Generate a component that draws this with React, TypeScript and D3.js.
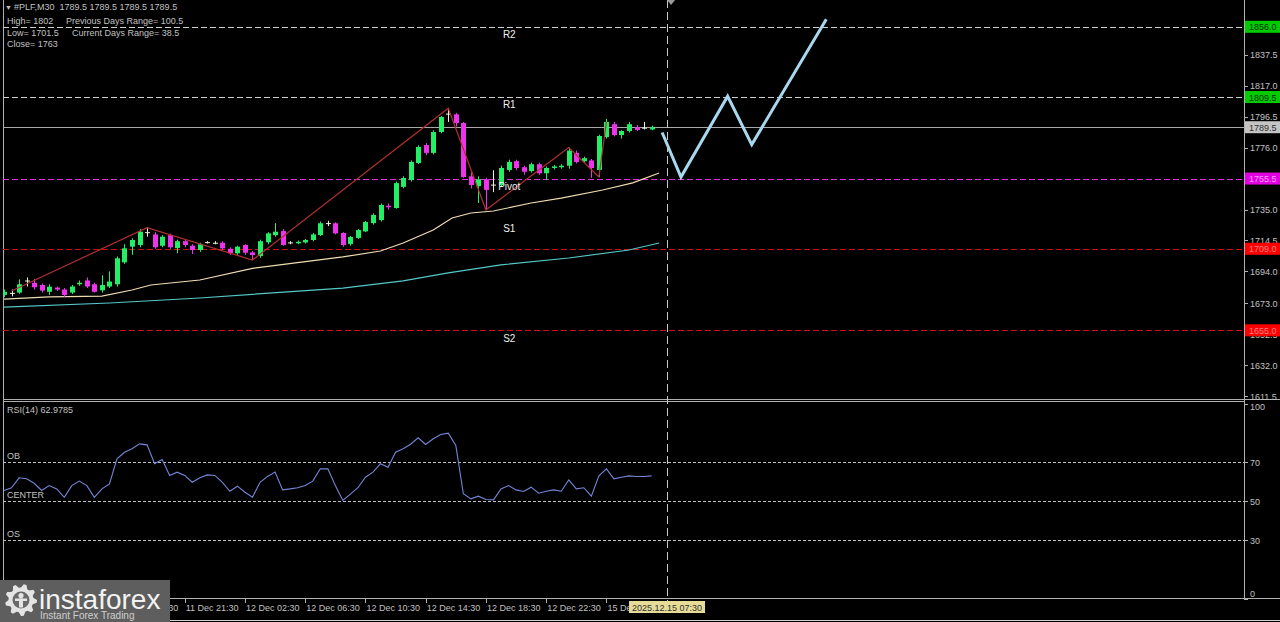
import React from 'react';
import * as d3 from 'd3';

// ---------- DATA ----------
const opens = [1678.5,1679.5,1680,1687.5,1686.5,1685,1680.5,1683.3,1682,1680,1685.5,1688,1685.5,1681.5,1684,1685.5,1700,1710.4,1711.5,1720,1718.5,1711,1718,1709.5,1714,1711,1708.2,1713.2,1713,1713,1709,1706,1711.5,1706.6,1704.2,1713.3,1718,1720.7,1713,1712.6,1713.2,1714.8,1718.1,1726,1725.9,1719.5,1712.2,1716.2,1720.5,1726,1728,1737.5,1736,1750,1754.5,1765.8,1777.7,1772.5,1786.3,1798.5,1798,1792.3,1757,1750.5,1755,1751.2,1751.2,1761.2,1767,1763,1760.5,1765,1759,1762.5,1763,1764,1772.5,1767,1767.5,1761.2,1783,1791.5,1784.3,1787,1789.5,1789,1788];
const highs = [1682,1682,1688.8,1690,1689,1686,1685.5,1684,1683,1685,1688,1690,1686.5,1691.5,1694,1704,1712,1716,1722,1723,1720,1718,1719,1715,1715,1712,1713,1714,1714,1714,1710,1711,1712,1707.5,1715,1720,1726,1722,1714,1714.5,1715.5,1719.5,1727,1727.5,1726.5,1720,1717.5,1722,1727.5,1732.5,1739,1739,1753.5,1757,1767.5,1777.5,1779,1787.5,1797,1802,1799,1793,1760,1757,1756,1761,1764,1768,1768,1764,1766,1766,1763.5,1764.5,1765,1776,1774,1770,1768.5,1784.5,1795,1793,1787.5,1793,1791,1793,1790.5];
const lows = [1677,1677.5,1679,1684,1682,1680,1678.5,1681,1677,1679,1684.5,1683,1680,1680,1683,1684,1699,1705,1710,1717,1709,1710,1709,1706,1710,1705.5,1707,1712.5,1712,1708,1705,1705,1705,1701.5,1703,1712,1717,1711,1712,1712,1712.5,1714,1717.5,1724,1718.5,1710.4,1711,1715.5,1720,1725,1727,1735,1735.5,1749,1753.5,1765,1771,1771.5,1785.5,1793,1790,1756,1749,1739.3,1734.7,1746.5,1750,1760,1761,1758,1759.5,1758,1754.5,1761.5,1762,1762,1765.5,1766,1756,1756.5,1782,1783.5,1782,1786,1787,1788,1787.5];
const closes = [1680.5,1679.8,1685.5,1688,1683.5,1681.3,1683.9,1682,1678.4,1684,1686.5,1684,1680.5,1685,1687.3,1702.7,1709.3,1714.8,1720.3,1719.6,1710,1717,1710,1714,1711.5,1708.2,1712,1713.4,1712.8,1709.3,1706,1710.4,1706.4,1704.9,1714,1719.2,1720.3,1711.5,1713.2,1713.6,1714.8,1718.5,1725.9,1725.8,1719.2,1711.5,1716.8,1721.4,1726.7,1731.4,1738,1736.5,1752.5,1755.9,1766.5,1776.4,1772.5,1786.3,1796.3,1798.1,1792.3,1756.5,1751.2,1755,1748,1751.5,1762.5,1766.5,1762.5,1760,1765,1759,1762.5,1763.5,1764,1774,1766.5,1769,1762.5,1783.7,1793,1784.3,1787,1791.5,1787.7,1789.2,1789.5];

const rsiValues = [55.4,56.8,61.9,61.4,59.1,55.4,57.9,56.2,51.9,57.9,60.2,57.9,51.9,56.2,58.8,71.6,75.0,76.8,79.3,78.8,69.1,71.3,63.1,64.8,63.1,59.6,61.9,63.4,63.1,59.6,55.0,57.6,54.5,51.9,59.6,62.6,64.8,55.7,56.2,56.8,57.9,60.2,66.5,66.5,58.0,50.3,53.5,56.8,62.2,64.8,69.1,67.3,75.0,76.8,79.1,82.4,79.0,81.9,84.1,84.8,78.5,53.7,51.1,52.5,50.8,50.6,56.2,57.9,55.7,54.9,57.1,54.0,55.0,55.7,55.0,60.8,56.2,56.8,52.5,62.9,66.5,61.4,62.2,62.9,62.6,62.6,62.9];

const ma1Idx = [0,6,13,17,19.5,26,33,39.5,45,50,53,57,59.5,62,65,70,74,79.5,83.5,87];
const ma1Vals = [1675.7,1677.1,1677.7,1681.7,1685,1688.3,1696,1700.2,1703.6,1707.5,1712.8,1721.4,1729.4,1732.7,1734,1739.3,1742.6,1747.9,1752.6,1759.2];
const ma2Idx = [0,14,26,45,53,59,66,75,83,87];
const ma2Vals = [1670.4,1673.1,1676.4,1683,1687.7,1693,1698.3,1702.9,1708.2,1712.8];

const zigIdx = [1,19,33,59,64,75,79,80];
const zigVals = [1681,1723,1701.5,1802,1734.7,1776,1756.5,1793];

const forecastIdx = [87.4,89.9,96.1,99.3,109.2];
const forecastVals = [1786,1756.5,1810,1778,1861];

const priceTicks = [1837.5,1817.0,1796.5,1776.0,1735.0,1714.5,1694.0,1673.0,1652.5,1632.0,1611.5];
const pivotNames = ['R2','R1','Pivot','S1','S2'];
const pivotValues = [1856.0,1809.5,1755.5,1709.0,1655.0];
const currentPrice = 1789.5;

const rsiLevels = [70,50,30];
const rsiLevelNames = ['OB','CENTER','OS'];
const rsiTicks = [100,70,50,30,0];
const rsiTitle = 'RSI(14) 62.9785';

const timeTickIdx = [16,24,32,40,48,56,64,72,80];
const timeLabels = ['11 Dec 17:30','11 Dec 21:30','12 Dec 02:30','12 Dec 06:30','12 Dec 10:30','12 Dec 14:30','12 Dec 18:30','12 Dec 22:30','15 Dec 03:30'];
const markerIdx = 88.05;
const markerLabel = '2025.12.15 07:30';

const headerTitle = '#PLF,M30  1789.5 1789.5 1789.5 1789.5';
const headerLeft = ['High= 1802', 'Low= 1701.5', 'Close= 1763'];
const headerRight = ['Previous Days Range= 100.5', 'Current Days Range= 38.5'];

// ---------- LAYOUT ----------
const W = 1280, H = 622;
const L = 3, R = 1244;
const MAIN_BOTTOM = 399, RSI_TOP = 401, RSI_BOTTOM = 598;
const FONT = '"Liberation Sans", Arial, sans-serif';
const AXIS_TXT = '#c0c0c0';
const BULL = '#22ee66', BEAR = '#ee33ee', DOJI = '#f0f0d8';

function pivotStyle(name: string) {
  if (name.startsWith('R')) return { line: '#d0d0d0', bg: '#00cc00', txt: '#0f2f0f' };
  if (name === 'Pivot') return { line: '#e030e0', bg: '#e000e0', txt: '#ff9cff' };
  return { line: '#d01010', bg: '#ff0000', txt: '#ff8080' };
}

function gearPath(cx: number, cy: number, rOut: number, rIn: number, teeth: number) {
  const pts: [number, number][] = [];
  const n = teeth * 4;
  for (let k = 0; k < n; k++) {
    const a = (k / n) * Math.PI * 2;
    const r = (k % 4 === 0 || k % 4 === 1) ? rOut : rIn;
    pts.push([cx + r * Math.cos(a), cy + r * Math.sin(a)]);
  }
  return d3.line()(pts.concat([pts[0]])) as string;
}

export default function App() {
  const x = d3.scaleLinear().domain([0, 86]).range([4, 651.6]);
  const y = d3.scaleLinear().domain([1611.5, 1856]).range([396, 26.8]);
  const yr = d3.scaleLinear().domain([0, 100]).range([598.5, 403.5]);

  const lineXY = d3.line<[number, number]>().x(d => x(d[0])).y(d => y(d[1]));
  const ma1 = lineXY(ma1Idx.map((v, i) => [v, ma1Vals[i]]));
  const ma2 = lineXY(ma2Idx.map((v, i) => [v, ma2Vals[i]]));
  const zig = lineXY(zigIdx.map((v, i) => [v, zigVals[i]]));
  const fc = lineXY(forecastIdx.map((v, i) => [v, forecastVals[i]]));
  const rsiPath = d3.line<number>().x((_, i) => x(i)).y(d => yr(d))(rsiValues);

  const mX = x(markerIdx);
  const labelX = x(67.1);
  const pivotLabelDy: Record<string, number> = { R2: 11, R1: 11, Pivot: 11, S1: -17, S2: 12 };
  const py = (v: number) => Math.round(y(v)) + 0.5;

  return (
    <svg width={W} height={H} style={{ position: 'fixed', left: 0, top: 0, background: '#000' }} fontFamily={FONT}>
      <defs>
        <clipPath id="mainClip"><rect x={L} y={0} width={R - L} height={MAIN_BOTTOM} /></clipPath>
        <clipPath id="rsiClip"><rect x={L} y={RSI_TOP} width={R - L} height={RSI_BOTTOM - RSI_TOP} /></clipPath>
      </defs>
      <rect x={0} y={0} width={W} height={H} fill="#000" />

      {/* frames */}
      <line x1={L + 0.5} x2={L + 0.5} y1={0} y2={RSI_BOTTOM} stroke="#b0b0b0" />
      <line x1={R + 0.5} x2={R + 0.5} y1={0} y2={RSI_BOTTOM} stroke="#b0b0b0" />
      <line x1={L} x2={W} y1={MAIN_BOTTOM + 0.5} y2={MAIN_BOTTOM + 0.5} stroke="#b0b0b0" />
      <line x1={L} x2={R} y1={RSI_TOP + 0.5} y2={RSI_TOP + 0.5} stroke="#b0b0b0" />
      <line x1={L} x2={W} y1={RSI_BOTTOM + 0.5} y2={RSI_BOTTOM + 0.5} stroke="#b0b0b0" />
      <line x1={0} x2={W} y1={620.5} y2={620.5} stroke="#d0d0d0" />

      <g clipPath="url(#mainClip)">
        {pivotValues.map((v, i) => (
          <line key={'pl' + i} x1={L} x2={R} y1={py(v)} y2={py(v)}
            stroke={pivotStyle(pivotNames[i]).line} strokeDasharray="6,3" strokeWidth={1} />
        ))}
        <line x1={L} x2={R} y1={py(currentPrice)} y2={py(currentPrice)} stroke="#a8a8a8" />

        <path d={ma2 || ''} fill="none" stroke="#55c8c8" strokeWidth={1.2} />
        <path d={ma1 || ''} fill="none" stroke="#f0dcb0" strokeWidth={1.2} />

        {opens.map((o, i) => {
          const c = closes[i];
          const col = c - o > 0.6 ? BULL : o - c > 0.6 ? BEAR : DOJI;
          const cx = Math.round(x(i)) + 0.5;
          const top = y(Math.max(o, c));
          const bot = y(Math.min(o, c));
          return (
            <g key={'c' + i}>
              <line x1={cx} x2={cx} y1={y(highs[i])} y2={y(lows[i])} stroke={col} strokeWidth={1} />
              <rect x={cx - 2.5} y={top} width={5} height={Math.max(1, bot - top)} fill={col} />
            </g>
          );
        })}

        <path d={zig || ''} fill="none" stroke="#b03030" strokeWidth={1.2} />

        {pivotValues.map((v, i) => (
          <text key={'pt' + i} x={labelX} y={y(v) + pivotLabelDy[pivotNames[i]]} fill="#f0f0f0" fontSize={10} textAnchor="middle">{pivotNames[i]}</text>
        ))}

        <path d={fc || ''} fill="none" stroke="#a8d8f0" strokeWidth={3} strokeLinejoin="miter" />
      </g>

      {/* header */}
      <text x={5} y={10} fill={AXIS_TXT} fontSize={7}>▼</text>
      <text x={14} y={10} fill={AXIS_TXT} fontSize={9} style={{ whiteSpace: 'pre' }}>{headerTitle}</text>
      {headerLeft.map((t, i) => (
        <text key={'hl' + i} x={7} y={24 + i * 11.5} fill={AXIS_TXT} fontSize={9}>{t}</text>
      ))}
      {headerRight.map((t, i) => (
        <text key={'hr' + i} x={i === 0 ? 66 : 72} y={24 + i * 11.5} fill={AXIS_TXT} fontSize={9}>{t}</text>
      ))}

      {/* price axis */}
      {priceTicks.map((v, i) => (
        <g key={'pa' + i}>
          <line x1={R} x2={R + 4} y1={py(v)} y2={py(v)} stroke="#b0b0b0" />
          <text x={1250} y={y(v) + 3.5} fill={AXIS_TXT} fontSize={9}>{v.toFixed(1)}</text>
        </g>
      ))}
      {pivotValues.map((v, i) => {
        const s = pivotStyle(pivotNames[i]);
        return (
          <g key={'pb' + i}>
            <rect x={R + 1} y={y(v) - 6} width={W - R - 1} height={12} fill={s.bg} />
            <text x={1249} y={y(v) + 3.5} fill={s.txt} fontSize={9}>{v.toFixed(1)}</text>
          </g>
        );
      })}
      <rect x={R + 1} y={y(currentPrice) - 6} width={W - R - 1} height={12} fill="#c4c4c4" />
      <text x={1249} y={y(currentPrice) + 3.5} fill="#303030" fontSize={9}>{currentPrice.toFixed(1)}</text>

      {/* RSI pane */}
      <g clipPath="url(#rsiClip)">
        {rsiLevels.map((v, i) => (
          <line key={'rl' + i} x1={L} x2={R} y1={Math.round(yr(v)) + 0.5} y2={Math.round(yr(v)) + 0.5} stroke="#c0c0c0" strokeDasharray="3,2" />
        ))}
        <path d={rsiPath || ''} fill="none" stroke="#7486d8" strokeWidth={1.1} />
      </g>
      <text x={7} y={413} fill={AXIS_TXT} fontSize={9}>{rsiTitle}</text>
      {rsiLevels.map((v, i) => (
        <text key={'rn' + i} x={7} y={yr(v) - 3} fill={AXIS_TXT} fontSize={9}>{rsiLevelNames[i]}</text>
      ))}
      {rsiTicks.map((v, i) => {
        const yy = Math.min(593, Math.max(406, yr(v)));
        return (
          <g key={'rt' + i}>
            <line x1={R} x2={R + 4} y1={Math.round(yr(v)) + 0.5} y2={Math.round(yr(v)) + 0.5} stroke="#b0b0b0" />
            <text x={1250} y={yy + 3.5} fill={AXIS_TXT} fontSize={9}>{v}</text>
          </g>
        );
      })}

      {/* time axis */}
      {timeTickIdx.map((v, i) => (
        <g key={'ta' + i}>
          <line x1={Math.round(x(v)) + 0.5} x2={Math.round(x(v)) + 0.5} y1={RSI_BOTTOM} y2={RSI_BOTTOM + 5} stroke="#b0b0b0" />
          <text x={x(v) + 1} y={611} fill={AXIS_TXT} fontSize={9}>{timeLabels[i]}</text>
        </g>
      ))}

      {/* current time marker */}
      <line x1={Math.round(mX) + 0.5} x2={Math.round(mX) + 0.5} y1={0} y2={606} stroke="#c8c8c8" strokeDasharray="8,4" />
      <polygon points={`${mX},0 ${mX + 8},0 ${mX + 4},5`} fill="#9a9a9a" />
      <rect x={mX - 38} y={601} width={76} height={12} fill="#e6dc98" />
      <text x={mX} y={610.5} fill="#303030" fontSize={9} textAnchor="middle">{markerLabel}</text>

      {/* logo */}
      <g>
        <rect x={0} y={580} width={170} height={42} fill="#5e5e5e" />
        <path d={gearPath(21, 600, 16, 12.5, 9)} fill="#e4e4e4" />
        <circle cx={21} cy={600} r={8.5} fill="#6a6a6a" />
        <circle cx={21} cy={595.5} r={2.6} fill="#e4e4e4" />
        <rect x={19} y={598.5} width={4} height={9} fill="#e4e4e4" />
        <rect x={15} y={598.5} width={12} height={2.5} fill="#e4e4e4" />
        <text x={39} y={609} fill="#f2f2f2" fontSize={28} fontFamily={FONT}>instaforex</text>
        <text x={40} y={619} fill="#cfcfcf" fontSize={10} fontFamily={FONT}>Instant Forex Trading</text>
      </g>
    </svg>
  );
}
